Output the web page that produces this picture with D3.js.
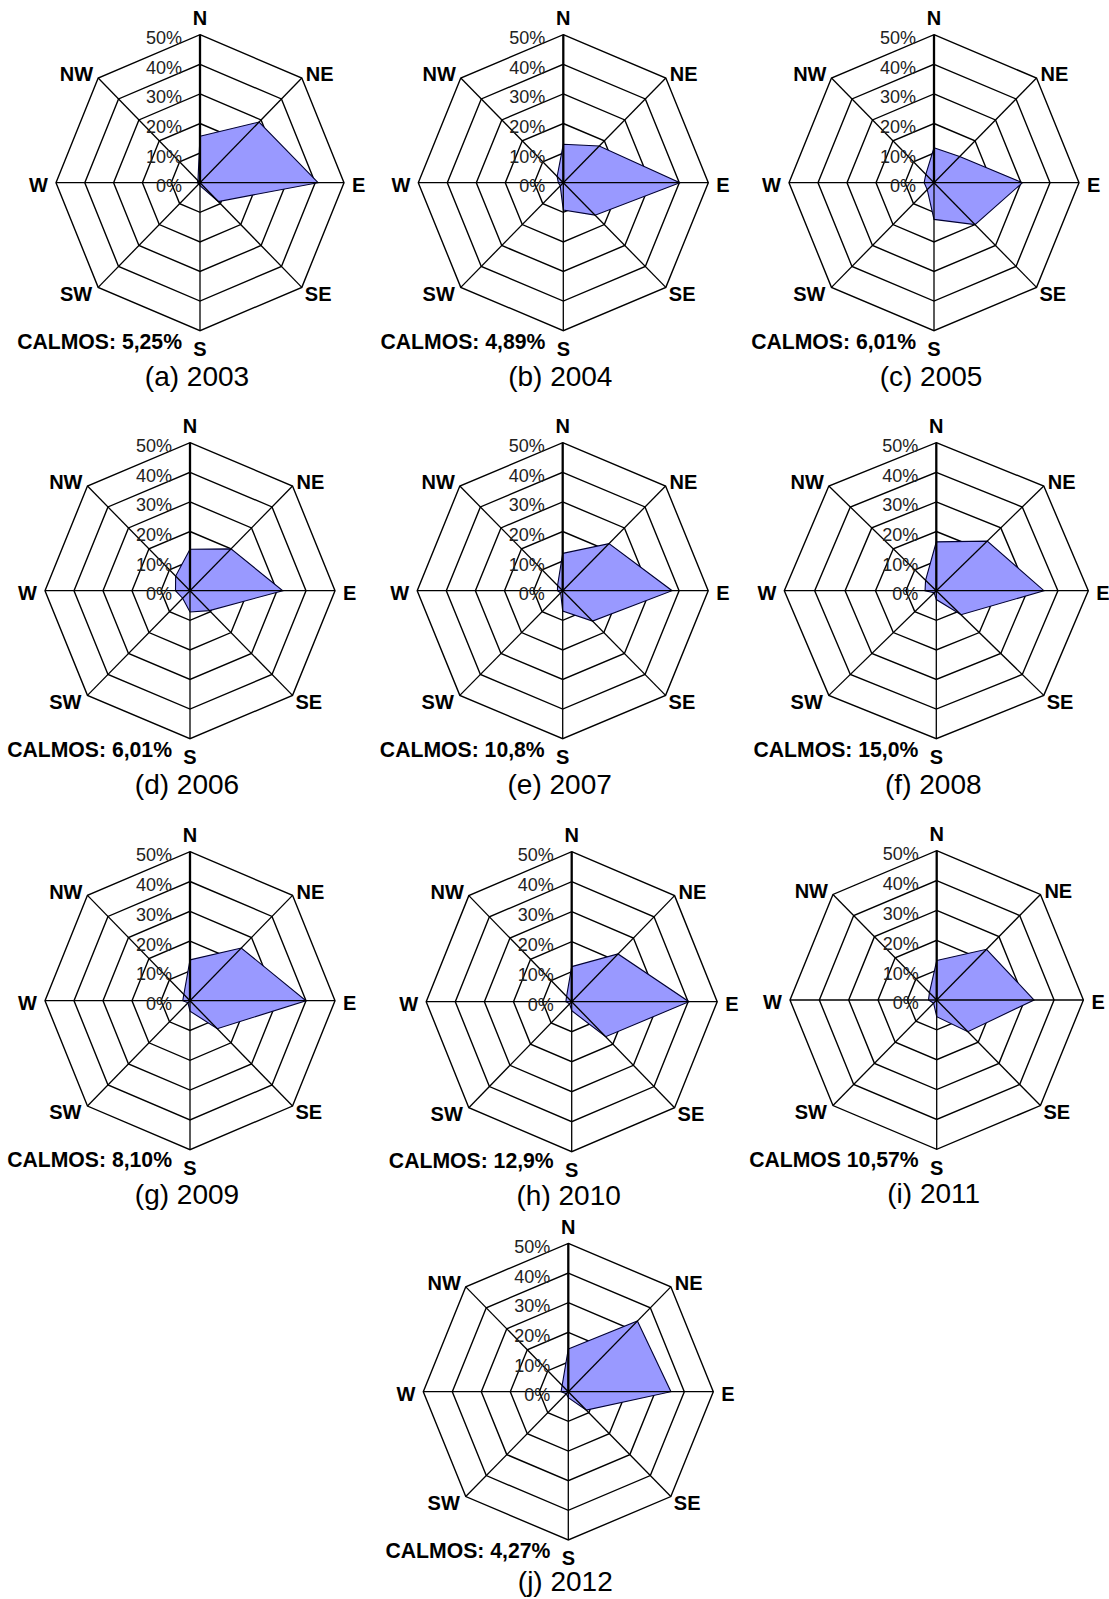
<!DOCTYPE html>
<html>
<head>
<meta charset="utf-8">
<script src="https://cdn.jsdelivr.net/npm/d3@7"></script>
<style>
  html, body { margin: 0; padding: 0; background: #fff; }
  svg { display: block; font-family: "Liberation Sans", Arial, Helvetica, sans-serif; }
</style>
</head>
<body>
<svg id="chart" width="1109" height="1599"></svg>
<script>
// Wind direction frequency (%) per year, order: N, NE, E, SE, S, SW, W, NW
const directions = ["N", "NE", "E", "SE", "S", "SW", "W", "NW"];
const years = [2003, 2004, 2005, 2006, 2007, 2008, 2009, 2010, 2011, 2012];
const panelLetters = ["a", "b", "c", "d", "e", "f", "g", "h", "i", "j"];
const calmosLabels = [
  "CALMOS: 5,25%", "CALMOS: 4,89%", "CALMOS: 6,01%", "CALMOS: 6,01%", "CALMOS: 10,8%",
  "CALMOS: 15,0%", "CALMOS: 8,10%", "CALMOS: 12,9%", "CALMOS 10,57%", "CALMOS: 4,27%"
];
const tickValues = [0, 10, 20, 30, 40, 50];
const tickLabels = ["0%", "10%", "20%", "30%", "40%", "50%"];

const freq2003 = [15.7, 29.0, 41.0, 9.0, 1.0, 0.5, 1.0, 1.0];
const freq2004 = [13.0, 17.5, 40.2, 15.5, 9.2, 1.5, 1.7, 3.0];
const freq2005 = [11.8, 12.5, 30.5, 20.0, 12.4, 3.3, 3.4, 4.0];
const freq2006 = [14.0, 20.0, 32.0, 9.5, 7.2, 3.6, 5.0, 7.0];
const freq2007 = [12.6, 22.5, 37.6, 14.5, 6.9, 1.0, 1.8, 2.5];
const freq2008 = [16.5, 23.7, 35.4, 11.5, 3.0, 1.0, 3.7, 5.0];
const freq2009 = [13.7, 25.0, 40.0, 13.3, 3.5, 1.0, 2.5, 3.0];
const freq2010 = [11.7, 22.5, 40.3, 16.5, 3.0, 1.0, 2.0, 2.5];
const freq2011 = [13.2, 24.0, 33.2, 15.0, 5.6, 1.5, 2.8, 3.5];
const freq2012 = [14.4, 33.7, 35.4, 8.8, 2.0, 1.0, 2.5, 3.0];

const series = [freq2003, freq2004, freq2005, freq2006, freq2007,
                freq2008, freq2009, freq2010, freq2011, freq2012];

// Panel placement: centre and radii (px) of each rose
const layout = [
  { cx: 200.0, cy: 182.7,  rx: 144.0, ry: 148.0 },
  { cx: 563.3, cy: 182.7,  rx: 145.0, ry: 148.0 },
  { cx: 934.0, cy: 182.7,  rx: 145.0, ry: 148.0 },
  { cx: 190.0, cy: 590.7,  rx: 145.0, ry: 148.0 },
  { cx: 562.7, cy: 590.7,  rx: 145.5, ry: 148.0 },
  { cx: 936.3, cy: 590.7,  rx: 152.0, ry: 148.0 },
  { cx: 190.0, cy: 1000.7, rx: 145.0, ry: 149.0 },
  { cx: 571.7, cy: 1001.7, rx: 145.5, ry: 150.0 },
  { cx: 936.7, cy: 1000.0, rx: 146.7, ry: 149.3 },
  { cx: 568.3, cy: 1391.7, rx: 145.0, ry: 148.3 }
];

const svg = d3.select("#chart");
const H = +svg.attr("height");

// radial scale: percentage -> fraction of outer ring
const rScale = d3.scaleLinear().domain([0, 50]).range([0, 1]);
// angular scale: direction index -> angle (clockwise from north)
const aScale = d3.scaleLinear().domain([0, directions.length]).range([0, 2 * Math.PI]);

const line = d3.line().curve(d3.curveLinearClosed);

series.forEach((vals, k) => {
  const L = layout[k];
  const pt = (v, i) => {
    const a = aScale(i), f = rScale(v);
    return [L.cx + f * L.rx * Math.sin(a), L.cy - f * L.ry * Math.cos(a)];
  };
  const g = svg.append("g");

  // concentric octagon rings
  tickValues.filter(t => t > 0).forEach(t => {
    g.append("path")
      .attr("d", line(directions.map((d, i) => pt(t, i))))
      .attr("fill", "none").attr("stroke", "#000").attr("stroke-width", 1.4);
  });

  // data polygon
  g.append("path")
    .attr("d", line(vals.map((v, i) => pt(v, i))))
    .attr("fill", "#9999FF").attr("stroke", "#000033").attr("stroke-width", 1.1);

  // spokes
  directions.forEach((d, i) => {
    const [x, y] = pt(50, i);
    g.append("line")
      .attr("x1", L.cx).attr("y1", L.cy).attr("x2", x).attr("y2", y)
      .attr("stroke", "#000").attr("stroke-width", i === 0 ? 2.3 : 1.3);
  });

  // percentage tick labels along the north spoke
  tickValues.forEach((t, j) => {
    g.append("text")
      .attr("x", L.cx - 18)
      .attr("y", L.cy - rScale(t) * L.ry + 3)
      .attr("dy", "0.36em")
      .attr("text-anchor", "end")
      .attr("font-size", 18)
      .attr("fill", "#222")
      .text(tickLabels[j]);
  });

  // direction labels
  directions.forEach((d, i) => {
    const [x, y] = pt(50, i);
    let tx = x, ty = y, anchor = "middle";
    if (d === "N")  { ty = y - 17; }
    if (d === "S")  { ty = y + 18; }
    if (d === "E")  { tx = x + 8;  ty = y + 2; anchor = "start"; }
    if (d === "W")  { tx = x - 8;  ty = y + 2; anchor = "end"; }
    if (d === "NE") { tx = x + 4;  ty = y - 4; anchor = "start"; }
    if (d === "SE") { tx = x + 3;  ty = y + 6; anchor = "start"; }
    if (d === "SW") { tx = x - 6;  ty = y + 6; anchor = "end"; }
    if (d === "NW") { tx = x - 5;  ty = y - 4; anchor = "end"; }
    g.append("text")
      .attr("x", tx).attr("y", ty).attr("dy", "0.36em")
      .attr("text-anchor", anchor)
      .attr("font-size", 20).attr("font-weight", "bold")
      .text(d);
  });

  // calm percentage
  g.append("text")
    .attr("x", L.cx - 18).attr("y", L.cy + 159).attr("dy", "0.36em")
    .attr("text-anchor", "end")
    .attr("font-size", 21.2).attr("font-weight", "bold")
    .text(calmosLabels[k]);

  // panel caption (kept inside the bottom edge)
  g.append("text")
    .attr("x", L.cx - 3).attr("y", Math.min(L.cy + 193, H - 18)).attr("dy", "0.36em")
    .attr("text-anchor", "middle")
    .attr("font-size", 28)
    .text(`(${panelLetters[k]}) ${years[k]}`);
});
</script>
</body>
</html>
